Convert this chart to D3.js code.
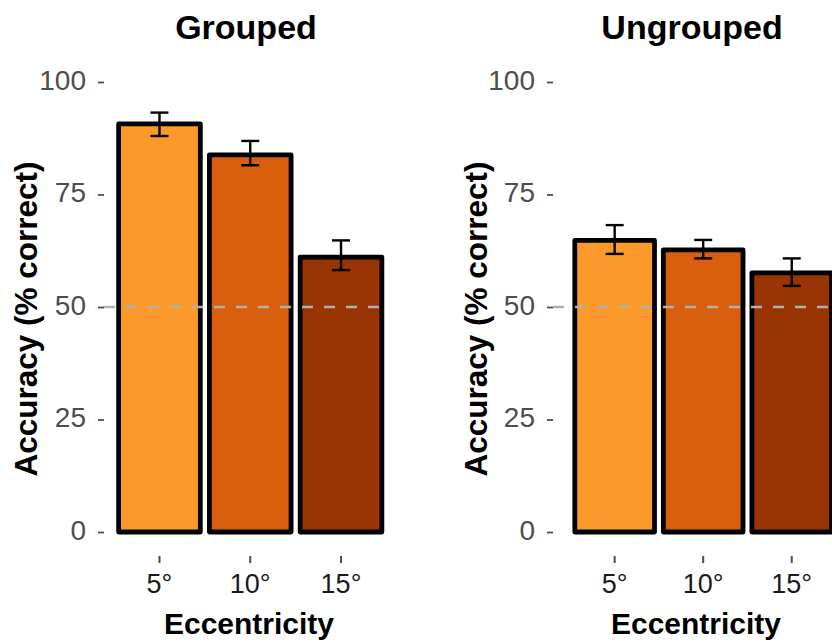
<!DOCTYPE html>
<html>
<head>
<meta charset="utf-8">
<script src="https://cdn.jsdelivr.net/npm/d3@7"></script>
<style>
  html, body { margin: 0; padding: 0; background: #fff; }
  svg { display: block; font-family: "Liberation Sans", Arial, Helvetica, sans-serif; }
</style>
</head>
<body>
<svg id="chart" width="832" height="644"></svg>
<script>
// ---- data ----
const categories = ["5°", "10°", "15°"];
const panels = ["Grouped", "Ungrouped"];
const groupedMeans = [90.7, 83.8, 61.1];
const groupedLower = [88.0, 81.5, 58.2];
const groupedUpper = [93.2, 86.9, 64.8];
const ungroupedMeans = [64.8, 62.7, 57.6];
const ungroupedLower = [61.8, 60.8, 54.7];
const ungroupedUpper = [68.2, 64.9, 60.8];
const yTicks = [0, 25, 50, 75, 100];
const chanceLevel = 50;
const barColors = ["#fb9a2b", "#d95f0e", "#993404"];

const yLabel = "Accuracy (% correct)";
const xLabel = "Eccentricity";

// ---- layout ----
const svg = d3.select("#chart");
const y = d3.scaleLinear().domain([0, 100]).range([532, 82]);

const layouts = [
  { axisX: 104, bandRange: [114.1, 386.4], titleX: 246, xTitleX: 249, yTitleX: 37,
    means: groupedMeans, lower: groupedLower, upper: groupedUpper },
  { axisX: 553, bandRange: [570.4, 836.0], titleX: 692, xTitleX: 696, yTitleX: 487,
    means: ungroupedMeans, lower: ungroupedLower, upper: ungroupedUpper }
];

panels.forEach((name, pi) => {
  const L = layouts[pi];
  const g = svg.append("g");
  const x = d3.scaleBand().domain(categories).range(L.bandRange)
    .paddingInner(0.1).paddingOuter(0.05);
  const colorScale = d3.scaleOrdinal().domain(categories).range(barColors);
  const data = categories.map((c, i) => ({ c, m: L.means[i], lo: L.lower[i], hi: L.upper[i] }));

  // bars
  g.selectAll("rect.bar").data(data).enter().append("rect")
    .attr("class", "bar")
    .attr("x", d => x(d.c))
    .attr("width", x.bandwidth())
    .attr("y", d => y(d.m))
    .attr("height", d => y(0) - y(d.m))
    .attr("fill", d => colorScale(d.c))
    .attr("stroke", "#000")
    .attr("stroke-width", 4.8)
    .attr("stroke-linejoin", "round");

  // chance line
  const lastBarEnd = x(categories[categories.length - 1]) + x.bandwidth();
  g.append("line")
    .attr("x1", L.axisX).attr("x2", Math.min(lastBarEnd, 832))
    .attr("y1", y(chanceLevel)).attr("y2", y(chanceLevel))
    .attr("stroke", "#b0b0b0").attr("stroke-width", 2.5)
    .attr("stroke-dasharray", "11,11");

  // error bars
  const capW = 18;
  const eb = g.selectAll("g.eb").data(data).enter().append("g").attr("class", "eb")
    .attr("stroke", "#000").attr("stroke-width", 2.4).attr("fill", "none");
  eb.append("line")
    .attr("x1", d => x(d.c) + x.bandwidth() / 2).attr("x2", d => x(d.c) + x.bandwidth() / 2)
    .attr("y1", d => y(d.lo)).attr("y2", d => y(d.hi));
  eb.append("line")
    .attr("x1", d => x(d.c) + x.bandwidth() / 2 - capW / 2).attr("x2", d => x(d.c) + x.bandwidth() / 2 + capW / 2)
    .attr("y1", d => y(d.hi)).attr("y2", d => y(d.hi));
  eb.append("line")
    .attr("x1", d => x(d.c) + x.bandwidth() / 2 - capW / 2).attr("x2", d => x(d.c) + x.bandwidth() / 2 + capW / 2)
    .attr("y1", d => y(d.lo)).attr("y2", d => y(d.lo));

  // y axis
  const yAxis = d3.axisLeft(y).tickValues(yTicks).tickSize(6).tickPadding(12).tickFormat(d3.format("d"));
  const ya = g.append("g").attr("transform", `translate(${L.axisX},0)`).call(yAxis);
  ya.select(".domain").remove();
  ya.selectAll(".tick line").attr("stroke", "#4d4d4d").attr("stroke-width", 1.8);
  ya.selectAll(".tick text").attr("fill", "#4d4d4d").attr("font-size", 28)
    .attr("font-family", "'Liberation Sans', Arial, sans-serif").attr("dy", "0.25em");

  // x axis
  const xAxis = d3.axisBottom(x).tickSize(7).tickPadding(8);
  const xa = g.append("g").attr("transform", `translate(0,556)`).call(xAxis);
  xa.select(".domain").remove();
  xa.selectAll(".tick line").attr("stroke", "#4d4d4d").attr("stroke-width", 2);
  xa.selectAll(".tick text").attr("fill", "#1a1a1a").attr("font-size", 27)
    .attr("font-family", "'Liberation Sans', Arial, sans-serif").attr("dy", "0.8em");

  // titles
  g.append("text").attr("x", L.titleX).attr("y", 39).attr("text-anchor", "middle")
    .attr("font-size", 34).attr("font-weight", "bold").attr("fill", "#000").text(name);
  g.append("text").attr("x", L.xTitleX).attr("y", 634).attr("text-anchor", "middle")
    .attr("font-size", 30).attr("font-weight", "bold").attr("fill", "#000").text(xLabel);
  g.append("text").attr("transform", `translate(${L.yTitleX},${(y(0) + y(100)) / 2 + 12}) rotate(-90)`)
    .attr("text-anchor", "middle")
    .attr("font-size", 31.5).attr("font-weight", "bold").attr("fill", "#000").text(yLabel);
});
</script>
</body>
</html>
